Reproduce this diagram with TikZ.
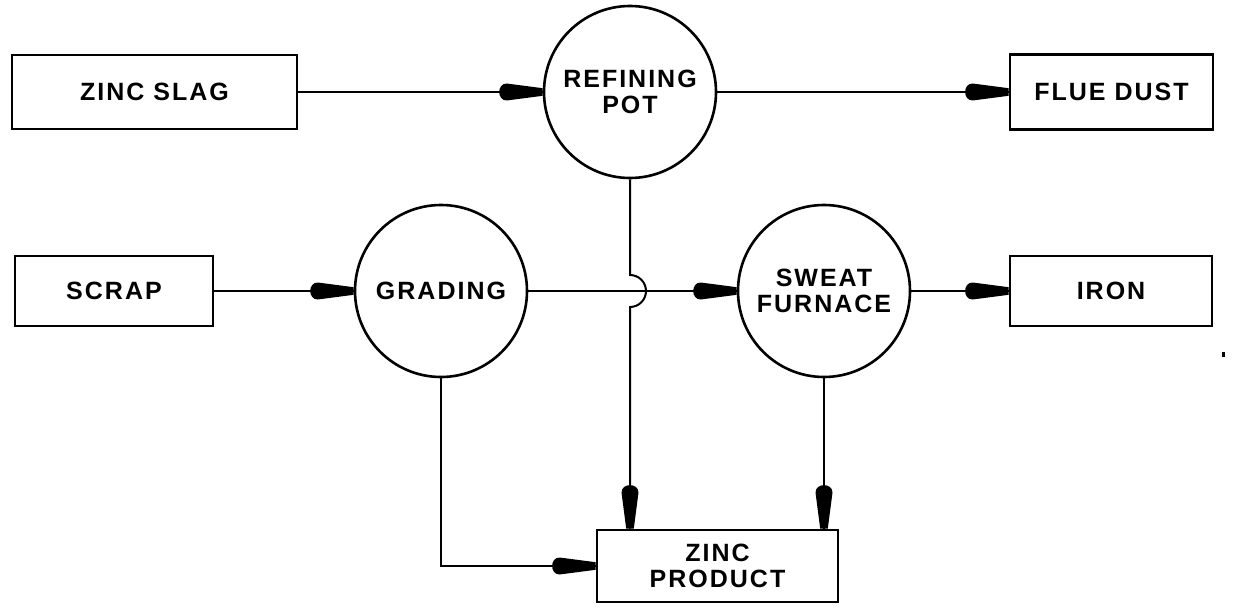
\documentclass[tikz,border=0pt]{standalone}
\usepackage{fontspec}
\setmainfont{Liberation Sans}[LetterSpace=8]
\usetikzlibrary{decorations.markings}
\begin{document}
\begin{tikzpicture}[x=1pt,y=-1pt,
  lbl/.style={font=\bfseries\fontsize{25}{26}\selectfont, align=center, inner sep=0pt},
  box/.style={lbl, draw, line width=2.8pt},
  proc/.style={lbl, draw, circle, line width=2.6pt, minimum size=172pt},
  flow/.style={line width=2pt, postaction={decorate},
    decoration={markings, mark=at position 1 with {
      \fill (0pt,3.8pt) -- (-36pt,8.5pt) .. controls (-46pt,8.5pt) and (-46pt,-8.5pt) .. (-36pt,-8.5pt) -- (0pt,-3.8pt) -- cycle;}}}
]
\useasboundingbox (0,0) rectangle (1251,610);

\node[box, minimum width=285pt, minimum height=74pt] (slag) at (154.5,92) {ZINC SLAG};
\node[box, minimum width=203pt, minimum height=75pt] (flue) at (1111.5,92) {FLUE DUST};
\node[box, minimum width=198pt, minimum height=70pt] (scrap) at (114,291) {SCRAP};
\node[box, minimum width=202pt, minimum height=70pt] (iron) at (1111,291) {IRON};
\node[box, minimum width=241pt, minimum height=72pt] (zinc) at (717.5,566) {ZINC\\PRODUCT};

\node[proc] (pot) at (630,92) {REFINING\\POT};
\node[proc] (grading) at (441,291) {GRADING};
\node[proc] (sweat) at (824,291) {SWEAT\\FURNACE};

\draw[flow] (slag.east) -- (pot.west);
\draw[flow] (pot.east) -- (flue.west);
\draw[flow] (scrap.east) -- (grading.west);
\draw[flow] (grading.east) -- (sweat.west);
\draw[flow] (sweat.east) -- (iron.west);
\draw[flow] (pot.south) -- (630,275) arc[start angle=-90, end angle=90, radius=16] -- (pot.south |- zinc.north);
\draw[flow] (sweat.south) -- (sweat.south |- zinc.north);
\draw[flow] (grading.south) |- (zinc.west);

\fill (1222,352) rectangle (1224.5,357);
\end{tikzpicture}
\end{document}
